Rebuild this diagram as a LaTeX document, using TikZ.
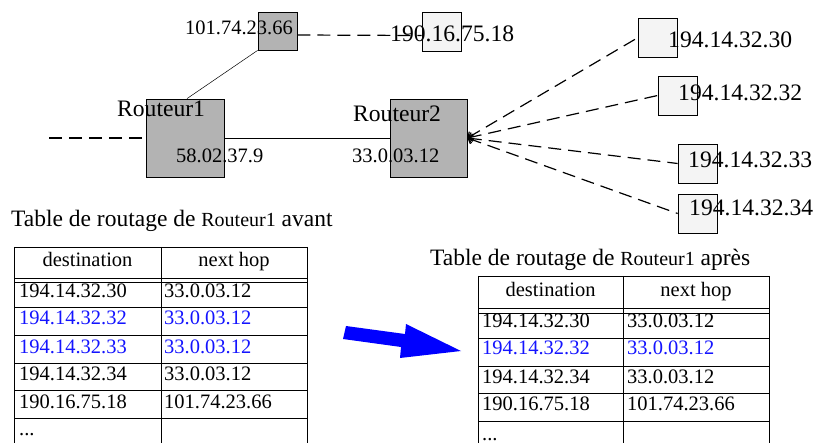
\documentclass[tikz,border=0pt]{standalone}
\usepackage{fontspec}
\setmainfont{Liberation Serif}
\usetikzlibrary{arrows.meta}
\definecolor{rgray}{RGB}{179,179,179}
\definecolor{hostfill}{RGB}{244,244,244}
\definecolor{hiblue}{RGB}{20,20,255}
\definecolor{arrblue}{RGB}{0,0,255}
\newcommand\fsz[1]{\fontsize{#1}{#1}\selectfont}
\begin{document}
\begin{tikzpicture}[x=1pt,y=-1pt,
  box/.style={draw, line width=0.8pt, inner sep=0pt, minimum width=39pt, minimum height=39pt},
  router/.style={box, fill=rgray, minimum width=78pt, minimum height=78pt},
  host/.style={box, fill=hostfill},
  lbl/.style={anchor=base west, inner sep=0pt, font=\fsz{20.5}},
  biglbl/.style={anchor=base west, inner sep=0pt, font=\fsz{23.6}},
  link/.style={line width=0.8pt},
  dlink/.style={line width=1.2pt, dash pattern=on 13pt off 7pt},
  cell/.style={anchor=base west, inner sep=0pt, font=\fsz{20.5}},
  hcell/.style={anchor=base, inner sep=0pt, font=\fsz{20.5}},
  ttl/.style={anchor=base west, inner sep=0pt, font=\fsz{23.5}},
  grid/.style={line width=0.8pt}]
\useasboundingbox (0,0) rectangle (816,443);

% network boxes
\node[router] (r1) at (185,138) {};
\node[router, minimum width=77pt] (r2) at (428.5,138) {};
\node[box, fill=rgray, minimum height=38pt] (b101) at (277.5,31) {};
\node[host] (b190) at (441.5,31.5) {};
\node[host] (hA) at (658,37.5) {};
\node[host] (hB) at (677.5,95.5) {};
\node[host] (hC) at (697.5,163.5) {};
\node[host] (hD) at (697.5,213.5) {};

% links
\coordinate (w) at (49,138);
\draw[dlink] (w) -- (r1.west);
\draw[link] (r1.east) -- (r2.west);
\draw[line width=0.5pt] ([xshift=2pt]r1.north) -- (b101.south west);
\draw[dlink] ([yshift=-4pt]b101.east) -- ([yshift=-4pt]b190.west);
\foreach \h in {hA,hB,hC,hD}
  \draw[dlink, {Straight Barb[length=4pt,width=9pt]}-] (r2.east) -- (\h.west);

% network labels
\node[lbl] (l101) at (185,35) {101.74.23.66};
\node[biglbl] (lr1) at (117,117) {Routeur1};
\node[lbl] (l58) at (176,163) {58.02.37.9};
\node[biglbl] (l190) at (390,42) {190.16.75.18};
\node[biglbl] (lr2) at (353,122) {Routeur2};
\node[lbl] (l33) at (352,163) {33.0.03.12};
\node[biglbl] (lA) at (668,48) {194.14.32.30};
\node[biglbl] (lB) at (678,101) {194.14.32.32};
\node[biglbl] (lC) at (688,168) {194.14.32.33};
\node[biglbl] (lD) at (689,216) {194.14.32.34};

% titles
\node[ttl] (t1) at (11,227) {Table de routage de {\fsz{20}Routeur1} avant};
\node[ttl] (t2) at (430,266) {Table de routage de {\fsz{20}Routeur1} après};

% left table grid
\foreach \y in {247,278,282,307,335,363,390,418}
  \draw[grid] (14,\y) -- (307,\y);
\foreach \x in {14,161,307}
  \draw[grid] (\x,247) -- (\x,443);
% right table grid
\foreach \y in {276,308,313,338,366,393,421}
  \draw[grid] (478,\y) -- (769,\y);
\foreach \x in {478,623,769}
  \draw[grid] (\x,276) -- (\x,443);

% left table text
\node[hcell] (lh1) at (87.5,267) {destination};
\node[hcell] (lh2) at (234,267) {next hop};
\node[cell] (la1) at (19,298) {194.14.32.30};
\node[cell] (lb1) at (164,298) {33.0.03.12};
\node[cell, text=hiblue] (la2) at (19,325) {194.14.32.32};
\node[cell, text=hiblue] (lb2) at (164,325) {33.0.03.12};
\node[cell, text=hiblue] (la3) at (19,353) {194.14.32.33};
\node[cell, text=hiblue] (lb3) at (164,353) {33.0.03.12};
\node[cell] (la4) at (19,380) {194.14.32.34};
\node[cell] (lb4) at (164,380) {33.0.03.12};
\node[cell] (la5) at (19,408) {190.16.75.18};
\node[cell] (lb5) at (164,408) {101.74.23.66};
\node[cell] (la6) at (19,435) {...};

% right table text
\node[hcell] (rh1) at (550.5,297) {destination};
\node[hcell] (rh2) at (696,297) {next hop};
\node[cell] (ra1) at (482,328) {194.14.32.30};
\node[cell] (rb1) at (627,328) {33.0.03.12};
\node[cell, text=hiblue] (ra2) at (482,355) {194.14.32.32};
\node[cell, text=hiblue] (rb2) at (627,355) {33.0.03.12};
\node[cell] (ra3) at (482,383) {194.14.32.34};
\node[cell] (rb3) at (627,383) {33.0.03.12};
\node[cell] (ra4) at (482,410) {190.16.75.18};
\node[cell] (rb4) at (627,410) {101.74.23.66};
\node[cell] (ra5) at (482,440) {...};

% big blue arrow
\fill[arrblue] (346,326) -- (405,334) -- (406,324) -- (461,351) -- (400,358) -- (401,347) -- (343,339) -- cycle;
\end{tikzpicture}
\end{document}
